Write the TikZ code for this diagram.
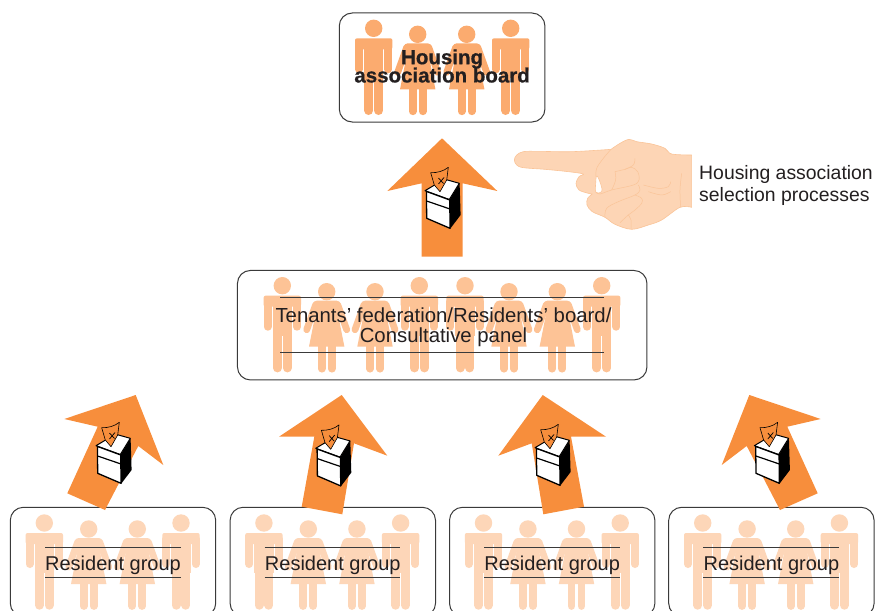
\documentclass[tikz,border=0pt]{standalone}
\usepackage{fontspec}
\setmainfont{Liberation Sans}
\newfontfamily\heavyfont[FakeBold=0.7]{Liberation Sans Bold}
\definecolor{inkc}{HTML}{231F20}
\definecolor{linec}{HTML}{3A3A3A}
\definecolor{arrowc}{HTML}{F78E3C}
\definecolor{figa}{HTML}{FBAB6F}
\definecolor{figb}{HTML}{FDC396}
\definecolor{figc}{HTML}{FDD6B8}
\definecolor{handfill}{HTML}{FDD5B5}
\definecolor{handline}{HTML}{FAC498}
\tikzset{
  panel/.style={draw=linec,line width=1pt,rounded corners=13pt,fill=white,inner sep=0pt},
  label/.style={text=inkc,inner sep=0pt,align=center,font=\fontsize{20}{20}\selectfont},
  midlabel/.style={label,font=\fontsize{20.35}{20}\selectfont},
  boldlabel/.style={label,font=\fontsize{20.5}{20}\selectfont\heavyfont},
  sidelabel/.style={text=inkc,inner sep=0pt,align=left,anchor=west,font=\fontsize{19.4}{22}\selectfont},
  rule/.style={draw=linec,line width=.8pt},
  bigarrow/.style={fill=arrowc},
  handpart/.style={draw=handline,line width=.6pt},
  handcrease/.style={draw=handline,line width=.5pt,smooth,tension=.6},
}
\newcommand{\manfig}[3]{\begin{scope}[shift={(#1,#2)}]
  \fill[#3] (0,0) circle (8.7pt);
  \fill[#3,rounded corners=2pt] (-18.7,10) -- (18.7,10) -- (18.7,21) -- (-18.7,21) -- cycle;
  \fill[#3] (-9.7,14) rectangle (9.7,50);
  \draw[#3,line width=8pt,line cap=round] (-14.7,16) -- (-14.7,41) (14.7,16) -- (14.7,41);
  \draw[#3,line width=9pt,line cap=round] (-4.9,45) -- (-4.9,82.2) (4.9,45) -- (4.9,82.2);
\end{scope}}
\newcommand{\womanfig}[3]{\begin{scope}[shift={(#1,#2)}]
  \fill[#3] (0,0) circle (8.7pt);
  \fill[#3,rounded corners=3pt] (-13,9) -- (13,9) -- (14,18) -- (-14,18) -- cycle;
  \fill[#3] (-10,16) -- (10,16) -- (17.7,55) -- (-17.7,55) -- cycle;
  \draw[#3,line width=6.8pt,line cap=round] (-11,13) -- (-20,38) (11,13) -- (20,38);
  \draw[#3,line width=7.7pt,line cap=round] (-5,50) -- (-5,77) (5,50) -- (5,77);
\end{scope}}
\newcommand{\ballot}[2]{\begin{scope}[shift={(#1,#2)}]
  \fill[black] (7.3,0) -- (17.6,-16.7) -- (18.6,15) -- (8,29) -- cycle;
  \draw[fill=white,draw=black,line width=1pt,line join=round]
    (-17,-9.3) -- (1,-20) -- (3,-20.7) -- (17.3,-16.7) -- (7.3,-.5) -- cycle;
  \draw[fill=arrowc,draw=black,line width=.6pt,line join=round]
    (-11.3,-27.3) .. controls (-5,-27) and (2,-29) .. (6.3,-32.7) -- (4.7,-20) -- (-2,-8.3) -- (-7.7,-15) -- cycle;
  \draw[black,line width=.7pt] (-3.5,-22) -- (1.5,-16.5) (2,-22.5) -- (-3.5,-16);
  \draw[fill=white,draw=black,line width=1.3pt,line join=round]
    (-15.6,-8.6) -- (7.8,0) -- (8,28.3) -- (-15.3,18.3) -- cycle;
  \draw[black,line width=1.2pt] (-15.4,1) -- (8,9);
\end{scope}}
\begin{document}
\begin{tikzpicture}[x=1pt,y=-1pt]
\useasboundingbox (0,0) rectangle (882,610);
\clip (0,0) rectangle (882,610);

% panels
\node[panel,minimum width=205.7pt,minimum height=109pt] (board) at (442.1,67.5) {};
\node[panel,minimum width=409.5pt,minimum height=109.5pt] (panelmid) at (442.2,325.2) {};
\node[panel,minimum width=205.4pt,minimum height=109pt] (groupa) at (113,561.8) {};
\node[panel,minimum width=205.4pt,minimum height=109pt] (groupb) at (332.8,561.8) {};
\node[panel,minimum width=205.4pt,minimum height=109pt] (groupc) at (552.2,561.8) {};
\node[panel,minimum width=205.4pt,minimum height=109pt] (groupd) at (771.4,561.8) {};

% board figures
\manfig{373.7}{28.3}{figa}
\womanfig{417.7}{34.3}{figa}
\womanfig{466.7}{34.3}{figa}
\manfig{510.7}{28.3}{figa}

% middle figures
\manfig{282.3}{285.7}{figb}
\womanfig{326.7}{291.7}{figb}
\womanfig{375}{291.7}{figb}
\manfig{419.3}{285.7}{figb}
\manfig{465}{285.7}{figb}
\womanfig{509}{291.7}{figb}
\womanfig{557.3}{291.7}{figb}
\manfig{601.7}{285.7}{figb}

% resident figures
\foreach \dx in {0,219.6,439.2,658.4}{
  \manfig{44.3+\dx}{523}{figc}
  \womanfig{88.7+\dx}{529}{figc}
  \womanfig{137.3+\dx}{529}{figc}
  \manfig{181+\dx}{523}{figc}
  \draw[rule] (45+\dx,547.7) -- (180.7+\dx,547.7) (45+\dx,577) -- (180.7+\dx,577);
}
\draw[rule] (280,297.7) -- (604.3,297.7) (280,352.3) -- (604.3,352.3);

% texts
\node[boldlabel] (boardtext) at (442.1,66) {Housing\\[-1.8pt]association board};
\node[midlabel] (midtext) at (443.5,327.5) {Tenants’ federation/Residents’ board/\\Consultative panel};
\node[label] (ta) at (113,565) {Resident group};
\node[label] (tb) at (332.8,565) {Resident group};
\node[label] (tc) at (552.2,565) {Resident group};
\node[label] (td) at (771.4,565) {Resident group};
\node[sidelabel] (side) at (699,185) {Housing association\\selection processes};

% arrows
\fill[bigarrow] (442,138.3) -- (497.3,191) -- (462.7,183.3) -- (462.7,256.7) -- (421.7,256.7) -- (421.7,183.3) -- (387.3,191) -- cycle;
\fill[bigarrow] (135.7,395) -- (163.3,465) -- (138.3,446) -- (105,510) -- (67.3,493.3) -- (97.7,426.7) -- (64.3,419) -- cycle;
\fill[bigarrow] (341.7,395) -- (387.3,455.7) -- (354,443.3) -- (342.3,514.3) -- (301.7,506.7) -- (314.3,436.7) -- (279,436.7) -- cycle;
\fill[bigarrow] (542.7,395) -- (606,436.7) -- (571,436.7) -- (584,506.7) -- (543.3,514.3) -- (531.7,443.3) -- (498.3,455.7) -- cycle;
\fill[bigarrow] (749.3,395) -- (820.7,419) -- (787.3,426.7) -- (817.7,493.3) -- (780,510) -- (746.7,446) -- (721.7,465) -- cycle;

% ballot boxes
\ballot{442}{200}
\ballot{113}{455}
\ballot{332.7}{457.6}
\ballot{552}{457}
\ballot{771.3}{455}

% hand
\begin{scope}[shift={(505,130)},x=.3333pt,y=-.3333pt]
  \path[handpart,fill=handfill,line join=round]
    plot[smooth,tension=.55] coordinates {(318,58) (200,65) (100,64) (55,65) (35,75) (28,90) (35,105) (55,113) (120,118) (190,125) (235,132) (222,140) (213,160) (222,180) (250,190) (262,192)}
    -- plot[smooth,tension=.55] coordinates {(262,192) (248,205) (246,225) (262,245) (300,262) (330,283) (380,298) (430,285) (470,270) (525,232) (560,232)}
    -- (560,75) -- plot[smooth,tension=.55] coordinates {(560,75) (500,72) (480,55) (440,42) (395,35) (372,28) (345,40) (318,58)} -- cycle;
  \draw[handpart,fill=white] plot[smooth cycle,tension=.7] coordinates {(276,138) (288,165) (290,185) (273,187) (272,160)};
  \draw[handcrease] plot coordinates {(318,58) (295,85) (275,115) (273,140)};
  \draw[handcrease] plot coordinates {(273,187) (285,192) (320,180) (385,165) (402,150) (398,125) (380,112) (360,118) (330,125)};
  \draw[handcrease] plot coordinates {(390,85) (385,105) (360,118)};
  \draw[handcrease] plot coordinates {(330,125) (332,150) (320,180)};
  \draw[handcrease] plot coordinates {(400,165) (405,180) (390,195) (340,215) (305,235) (300,262)};
  \draw[handcrease] plot coordinates {(390,195) (410,205) (410,220) (390,240) (370,255) (345,278)};
  \draw[handcrease] plot coordinates {(370,255) (378,270) (378,296)};
  \draw[handcrease] plot coordinates {(530,130) (525,180) (527,232)};
  \draw[handcrease] plot coordinates {(415,165) (460,175) (490,170) (497,155)};
  \draw[handcrease] plot coordinates {(430,185) (470,195) (497,185)};
\end{scope}
\end{tikzpicture}
\end{document}
